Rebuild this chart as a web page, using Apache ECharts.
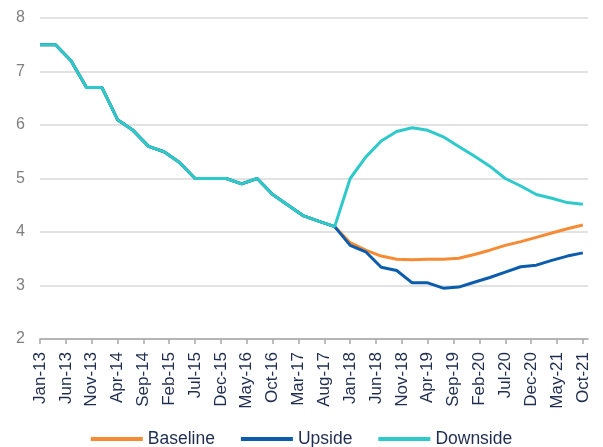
<!DOCTYPE html>
<html lang="en">
<head>
	<meta charset="UTF-8">
	<title>Scenarios</title>
	<script src="https://cdn.jsdelivr.net/npm/echarts@6/dist/echarts.min.js"></script>
	<style>
		html, body { margin: 0; padding: 0; background: #fff; }
		#main { width: 603px; height: 447px; }
	</style>
</head>
<body>
	<div id="main"></div>
<script>
// quarterly points: Jan-13, Apr-13, ... Oct-21
var pastValues = [7.5, 7.5, 7.2, 6.7, 6.7, 6.1, 5.9, 5.6, 5.5, 5.3,
	5.0, 5.0, 5.0, 4.9, 5.0, 4.7, 4.5, 4.3, 4.2, 4.1];
var baseline = [3.8, 3.66, 3.55, 3.49, 3.48, 3.49, 3.49, 3.51, 3.58, 3.66,
	3.75, 3.82, 3.9, 3.98, 4.06, 4.13];
var upside = [3.75, 3.63, 3.34, 3.28, 3.05, 3.05, 2.95, 2.97, 3.06, 3.15,
	3.25, 3.35, 3.38, 3.47, 3.55, 3.61];
var downside = [5.0, 5.4, 5.7, 5.88, 5.95, 5.9, 5.78, 5.6, 5.42, 5.23,
	5.0, 4.86, 4.7, 4.63, 4.55, 4.52];

var monthNames = ['Jan', 'Feb', 'Mar', 'Apr', 'May', 'Jun', 'Jul', 'Aug', 'Sep', 'Oct', 'Nov', 'Dec'];

// monthly categories Jan-13 .. Nov-21, labels shown every 5 months
var categories = [];
for (var y = 13; y <= 21; y++) {
	for (var m = 0; m < 12; m++) {
		if (y == 21 && m > 10) break;
		categories.push(monthNames[m] + '-' + y);
	}
}

function toPoints(values) {
	// values are quarterly, every 3rd month
	return values.map(function (v, i) { return [categories[i * 3], v]; });
}

var baseData = toPoints(pastValues.concat(baseline));
var upData = toPoints(pastValues.concat(upside));
var downData = toPoints(pastValues.concat(downside));

var navy = '#1F2D4F';

var chart = echarts.init(document.getElementById('main'));
chart.setOption({
	animation: false,
	grid: { left: 40, right: 15, top: 18, bottom: 108 },
	legend: {
		top: 425,
		left: 'center',
		icon: 'rect',
		itemWidth: 52,
		itemHeight: 4,
		itemGap: 26,
		textStyle: { color: navy, fontSize: 17.5, fontFamily: 'Liberation Sans, Arial' },
		data: ['Baseline', 'Upside', 'Downside']
	},
	xAxis: {
		type: 'category',
		boundaryGap: false,
		data: categories,
		axisLine: { lineStyle: { color: '#A6A6A6', width: 1.5 } },
		axisTick: { interval: 4, length: 5, lineStyle: { color: '#A6A6A6', width: 1.5 } },
		axisLabel: {
			interval: 4,
			rotate: 90,
			margin: 13,
			color: navy,
			fontSize: 17,
			fontFamily: 'Liberation Sans, Arial'
		},
		splitLine: { show: false }
	},
	yAxis: {
		type: 'value',
		min: 2,
		max: 8,
		interval: 1,
		axisLine: { show: false },
		axisTick: { show: false },
		axisLabel: { margin: 15, color: '#7F7F7F', fontSize: 16, fontFamily: 'Liberation Sans, Arial' },
		splitLine: { lineStyle: { color: '#D9D9D9', width: 1.5 } }
	},
	series: [
		{
			name: 'Baseline',
			type: 'line',
			color: '#F68B33',
			showSymbol: false,
			lineStyle: { width: 3 },
			data: baseData
		}, {
			name: 'Upside',
			type: 'line',
			color: '#0B5CAD',
			showSymbol: false,
			lineStyle: { width: 3 },
			data: upData
		}, {
			name: 'Downside',
			type: 'line',
			color: '#2EC9CA',
			showSymbol: false,
			lineStyle: { width: 3 },
			data: downData
		}
	]
});
</script>
</body>
</html>
